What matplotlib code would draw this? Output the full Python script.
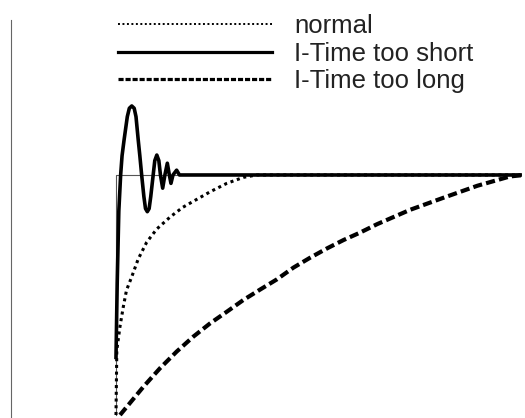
import matplotlib
matplotlib.use("Agg")
import matplotlib.pyplot as plt
from matplotlib.lines import Line2D

plt.rcParams['font.family'] = ['Liberation Sans', 'DejaVu Sans']

# setpoint step (time, value)
step_t = [0, 0, 100]
step_v = [0, 1, 1]

# normal response
normal_t = [0, 0.2, 1.0, 1.8, 2.6, 3.9, 5.5, 7.6, 10.1, 13.4, 16.5, 19.1, 23.3, 27.4, 31.5, 34.8, 100]
normal_v = [0, 0.27, 0.37, 0.45, 0.52, 0.576, 0.65, 0.72, 0.775, 0.825, 0.865, 0.89, 0.93, 0.965, 0.99, 1.0, 1.0]

# I-Time too short (oscillating)
short_t = [0, 0.3, 0.7, 1.15, 1.5, 2.0, 2.8, 3.3, 3.9, 4.5, 4.95, 5.5, 5.9, 6.35, 6.9, 7.3, 7.75, 8.2, 8.6,
           9.2, 9.6, 10.1, 10.6, 11.0, 11.55, 12.1, 12.7, 13.2, 13.6, 14.1, 15.0, 15.7, 16.5, 100]
short_v = [0.24, 0.55, 0.85, 1.0, 1.08, 1.146, 1.243, 1.278, 1.2875, 1.278, 1.243, 1.146, 1.08, 1.0, 0.91, 0.86,
           0.847, 0.86, 0.91, 1.0, 1.06, 1.083, 1.06, 1.0, 0.945, 1.0, 1.049, 1.0, 0.965, 1.0, 1.02, 1.0, 1.0, 1.0]

# I-Time too long
long_t = [1, 6.8, 10.9, 15.0, 19.1, 23.3, 27.4, 31.5, 35.6, 39.8, 43.9, 48, 52.2, 56.3, 60.4,
          64.6, 72.8, 81, 89.4, 97.5, 101]
long_v = [0, 0.118, 0.195, 0.264, 0.326, 0.382, 0.43, 0.479, 0.522, 0.565, 0.614, 0.655, 0.694, 0.729, 0.76,
          0.795, 0.855, 0.905, 0.955, 0.994, 1.0]

labels = ['normal', 'I-Time too short', 'I-Time too long']

fig = plt.figure(figsize=(5.25, 4.18), dpi=100)
ax = fig.add_axes([0, 0, 1, 1])
ax.set_xlim(-28.7, 101.2)
ax.set_ylim(-0.0125, 1.729)
ax.axis('off')

# left border line
ax.plot([-26.0, -26.0], [-0.02, 1.646], color='#666666', lw=0.8)

ax.plot(step_t, step_v, color='#555555', lw=0.8)
ax.plot(normal_t, normal_v, color='black', lw=2.2, linestyle=(0, (1, 1.2)))
ax.plot(short_t, short_v, color='black', lw=2.6, solid_joinstyle='round')
ax.plot(long_t, long_v, color='black', lw=3.0, linestyle=(0, (2.2, 1.0)))

# legend handles drawn finer than the curves, as in the original
handles = [Line2D([], [], color='black', lw=1.4, linestyle=(0, (1, 1.3))),
           Line2D([], [], color='black', lw=2.3),
           Line2D([], [], color='black', lw=2.3, linestyle=(0, (1.6, 0.6)))]
leg = ax.legend(handles, labels, loc='upper left', bbox_to_anchor=(0.186, 1.015),
                frameon=False, fontsize=18.5, handlelength=6.0, handletextpad=0.86,
                labelspacing=0.14, borderpad=0.3)
for t in leg.get_texts():
    t.set_color('#222222')

fig.savefig('out.png', dpi=100)
